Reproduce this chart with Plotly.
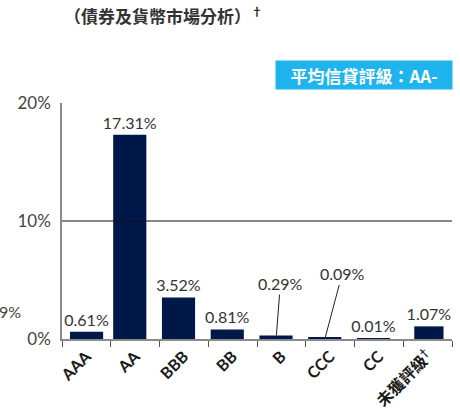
import plotly.graph_objects as go

# Credit rating breakdown (% of portfolio)
ratings = ["AAA", "AA", "BBB", "BB", "B", "CCC", "CC", "未獲評級<sup>†</sup>"]
weights = [0.61, 17.31, 3.52, 0.81, 0.29, 0.09, 0.01, 1.07]
y_ticks = [0, 10, 20]
y_tick_labels = ["0%", "10%", "20%"]
title_text = "（債券及貨幣市場分析）<sup>†</sup>"
badge_text = "平均信貸評級：AA-"

# small bars whose labels are lifted and tied back with a leader line
lifted = {"B": (4, -52), "CCC": (17, -64)}

BAR = "#001849"
NUM_FONT = "Lato, 'Noto Sans', sans-serif"
CJK_FONT = "'Noto Sans CJK TC', 'Noto Sans', sans-serif"

labels = ["" if r in lifted else f"{v:.2f}%" for r, v in zip(ratings, weights)]
offsets = [-0.336, -0.45, -0.45, -0.45, -0.45, -0.45, -0.45, -0.274]
widths = [0.68, 0.68, 0.68, 0.68, 0.68, 0.68, 0.68, 0.6]

fig = go.Figure(
    go.Bar(
        x=ratings,
        y=weights,
        marker=dict(color=BAR, line=dict(width=0)),
        offset=offsets,
        width=widths,
        text=labels,
        textposition="outside",
        constraintext="none",
        cliponaxis=False,
        textfont=dict(family=NUM_FONT, size=16, color="#333333"),
    )
)

annotations = []
for r, v in zip(ratings, weights):
    if r in lifted:
        ax, ay = lifted[r]
        annotations.append(dict(
            x=r, y=v, xref="x", yref="y", xshift=-5,
            text=f"{v:.2f}%", showarrow=True, arrowhead=0, arrowwidth=1,
            arrowcolor="#222222", ax=ax, ay=ay, standoff=0,
            font=dict(family=NUM_FONT, size=16, color="#333333"),
        ))

annotations += [
    dict(text=title_text, xref="paper", yref="paper", x=0.0, y=1.373,
         xanchor="left", yanchor="middle", showarrow=False,
         font=dict(family=CJK_FONT, size=17, color="#333333", weight="bold")),
    dict(text=badge_text, xref="paper", yref="paper", x=1.0026, y=1.119,
         xanchor="right", yanchor="middle", showarrow=False,
         width=176, height=28, bgcolor="#1fb4ee", borderpad=0, align="center",
         font=dict(family=CJK_FONT, size=17, color="#ffffff", weight="bold")),
    dict(text="9%", xref="paper", yref="y", x=-0.1, y=2.29,
         xanchor="right", yanchor="middle", showarrow=False,
         font=dict(family=NUM_FONT, size=16, color="#444444")),
]

fig.update_layout(
    width=460, height=410,
    margin=dict(l=62, r=8, t=103, b=71),
    paper_bgcolor="white", plot_bgcolor="white",
    showlegend=False,
    annotations=annotations,
    shapes=[dict(type="line", xref="paper", yref="y", x0=0, x1=1, y0=10, y1=10,
                 line=dict(color="#111111", width=1.2), layer="above")],
    xaxis=dict(
        type="category", automargin=False,
        showline=True, linecolor="#8a8a8a", linewidth=2,
        ticks="outside", tickson="boundaries", ticklen=6, tickcolor="#555555",
        tickangle=-45, showgrid=False,
        tickfont=dict(family="Lato, " + CJK_FONT, size=16, color="#1a1a1a", weight="bold"),
    ),
    yaxis=dict(
        range=[0, 20], tickmode="array", tickvals=y_ticks, ticktext=y_tick_labels,
        automargin=False,
        showline=True, linecolor="#8a8a8a", linewidth=1.5,
        showgrid=False, zeroline=False, ticks="", ticklabelstandoff=6,
        tickfont=dict(family=NUM_FONT, size=17, color="#444444"),
    ),
)

fig.write_html("out.html")
